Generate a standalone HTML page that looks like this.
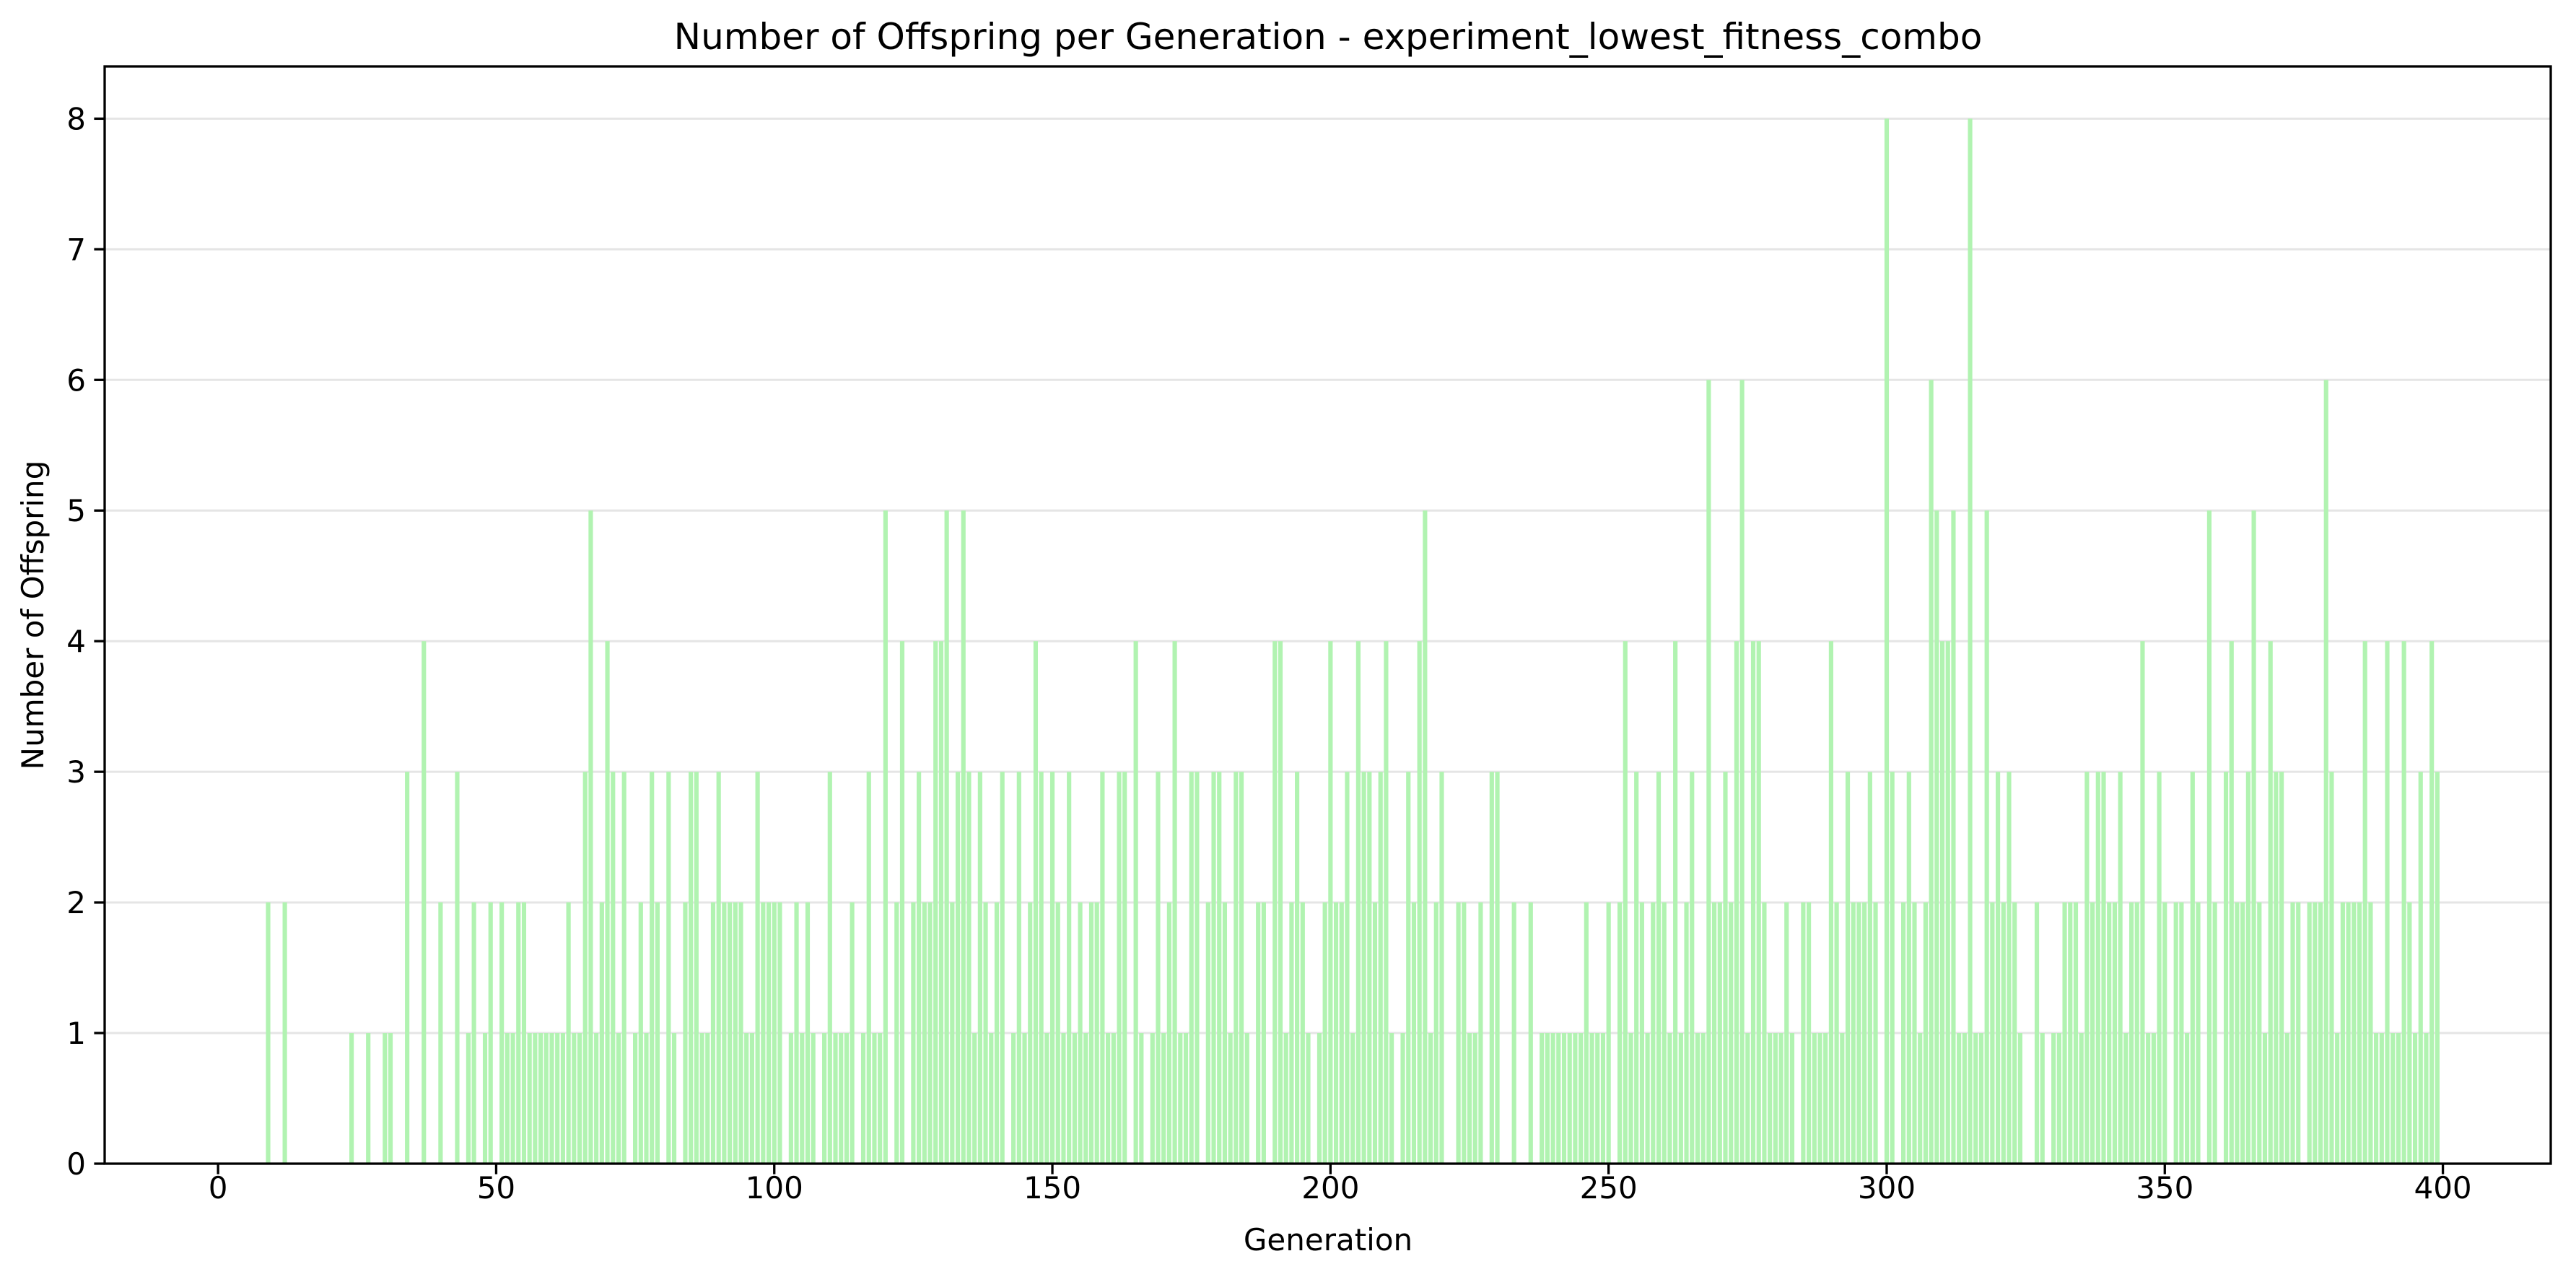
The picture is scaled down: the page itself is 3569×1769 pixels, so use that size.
<!DOCTYPE html>
<html>
<head>
<meta charset="utf-8">
<style>
html,body{margin:0;padding:0;background:#fff;}
svg{display:block;}
text{font-family:"DejaVu Sans","Liberation Sans",sans-serif;fill:#000;}
</style>
</head>
<body>
<svg id="chart" width="3569" height="1769" viewBox="0 0 3569 1769" xmlns="http://www.w3.org/2000/svg">
  <rect x="0" y="0" width="3569" height="1769" fill="#fff"/>
  <g id="grid"></g>
  <g id="bars"></g>
  <g id="axes"></g>
  <text x="1840" y="68" font-size="50" text-anchor="middle">Number of Offspring per Generation - experiment_lowest_fitness_combo</text>
  <text x="1840" y="1732" font-size="42" text-anchor="middle">Generation</text>
  <text x="0" y="0" font-size="42" text-anchor="middle" transform="translate(60,852) rotate(-90)">Number of Offspring</text>
</svg>
<script>
const values = [
0,0,0,0,0,0,0,0,0,2, 0,0,2,0,0,0,0,0,0,0, 0,0,0,0,1,0,0,1,0,0, 1,1,0,0,3,0,0,4,0,0,
2,0,0,3,0,1,2,0,1,2, 0,2,1,1,2,2,1,1,1,1, 1,1,1,2,1,1,3,5,1,2, 4,3,1,3,0,1,2,1,3,2,
0,3,1,0,2,3,3,1,1,2, 3,2,2,2,2,1,1,3,2,2, 2,2,0,1,2,1,2,1,0,1, 3,1,1,1,2,0,1,3,1,1,
5,0,2,4,0,2,3,2,2,4, 4,5,2,3,5,3,1,3,2,1, 2,3,0,1,3,1,2,4,3,1, 3,2,1,3,1,2,1,2,2,3,
1,1,3,3,0,4,1,0,1,3, 1,2,4,1,1,3,3,0,2,3, 3,2,1,3,3,1,0,2,2,0, 4,4,1,2,3,2,1,0,1,2,
4,2,2,3,1,4,3,3,2,3, 4,1,0,1,3,2,4,5,1,2, 3,0,0,2,2,1,1,2,0,3, 3,0,0,2,0,0,2,0,1,1,
1,1,1,1,1,1,2,1,1,1, 2,0,2,4,1,3,2,1,2,3, 2,1,4,1,2,3,1,1,6,2, 2,3,2,4,6,1,4,4,2,1,
1,1,2,1,0,2,2,1,1,1, 4,2,1,3,2,2,2,3,2,0, 8,3,0,2,3,2,1,2,6,5, 4,4,5,1,1,8,1,1,5,2,
3,2,3,2,1,0,0,2,1,0, 1,1,2,2,2,1,3,2,3,3, 2,2,3,1,2,2,4,1,1,3, 2,0,2,2,1,3,2,0,5,2,
0,3,4,2,2,3,5,2,1,4, 3,3,1,2,2,0,2,2,2,6, 3,1,2,2,2,2,4,2,1,1, 4,1,1,4,2,1,3,1,4,3
];
const xTicks = [0,50,100,150,200,250,300,350,400];
const yTicks = [0,1,2,3,4,5,6,7,8];

const NS = "http://www.w3.org/2000/svg";
const L = 145, R = 3534, T = 92, B = 1612;
const xMin = -20.39, xMax = 419.39, yMax = 8.4;
function xs(v){ return L + (v - xMin) / (xMax - xMin) * (R - L); }
function ys(v){ return B - v / yMax * (B - T); }
function mk(tag, attrs, parent){
  const e = document.createElementNS(NS, tag);
  for (const k in attrs) e.setAttribute(k, attrs[k]);
  parent.appendChild(e);
  return e;
}
const gBars = document.getElementById('bars');
const gGrid = document.getElementById('grid');
const gAxes = document.getElementById('axes');
const bw = 0.8 * (xs(1) - xs(0));
values.forEach(function(v, i){
  if (v <= 0) return;
  const r = mk('rect', {x: xs(i) - bw/2, y: ys(v), width: bw, height: ys(0) - ys(v), fill: '#b1f3b1'}, gBars);
  
  
});
yTicks.forEach(function(t){
  const y = ys(t);
  const gl = mk('line', {x1: L, x2: R, y1: y, y2: y, stroke: '#000', 'stroke-opacity': 0.1, 'stroke-width': 3}, gGrid);
  
  
  const tk = mk('line', {x1: L - 14.6, x2: L, y1: y, y2: y, stroke: '#000', 'stroke-width': 3.3}, gAxes);
  
  
  const tx = mk('text', {x: L - 26, y: y + 15, 'font-size': 42, 'text-anchor': 'end'}, gAxes);
  tx.textContent = String(t);
  
  
});
xTicks.forEach(function(t){
  const x = xs(t);
  const tk = mk('line', {x1: x, x2: x, y1: B, y2: B + 14.6, stroke: '#000', 'stroke-width': 3.3}, gAxes);
  
  
  const tx = mk('text', {x: x, y: B + 48, 'font-size': 42, 'text-anchor': 'middle'}, gAxes);
  tx.textContent = String(t);
  
  
});
const frame = mk('rect', {x: L, y: T, width: R - L, height: B - T, fill: 'none', stroke: '#000', 'stroke-width': 3.3}, gAxes);


</script>
</body>
</html>
